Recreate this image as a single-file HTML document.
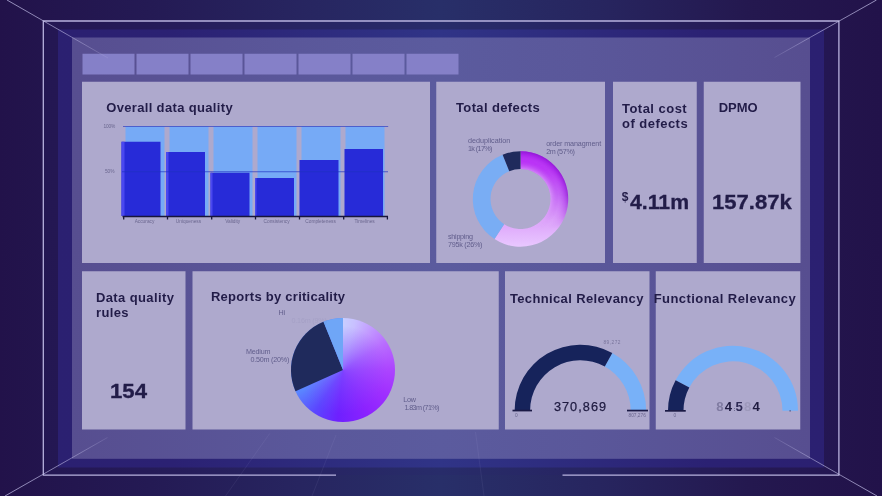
<!DOCTYPE html>
<html lang="en">
<head>
<meta charset="utf-8">
<title>Data quality dashboard</title>
<style>
  html, body { margin: 0; padding: 0; }
  body {
    width: 882px; height: 496px; overflow: hidden; position: relative;
    font-family: "Liberation Sans", sans-serif;
    background: #22124a;
  }
  #stage { position: absolute; left: 0; top: 0; width: 882px; height: 496px; overflow: hidden; }
  .t { filter: blur(0.35px); }
  svg.layer { position: absolute; left: 0; top: 0; filter: blur(0.4px); }
  .t { position: absolute; white-space: nowrap; color: #221c48; line-height: 1; }
  .title { font-weight: bold; font-size: 13px; }
  .big { font-weight: bold; font-size: 19.6px; transform-origin: 0 0; -webkit-text-stroke: 0.3px #221c48; }
  .lbl { font-size: 7.2px; color: #605d8b; line-height: 8px; }
  .tiny { font-size: 4.8px; color: #6b678f; }
  .num { font-size: 12.7px; color: #1f1b40; letter-spacing: 1.2px; }
</style>
</head>
<body>
<div id="stage">

<svg class="layer" width="882" height="496" viewBox="0 0 882 496">
  <defs>
    <radialGradient id="bgG" cx="441" cy="248" r="470" gradientUnits="userSpaceOnUse" gradientTransform="translate(0,0)">
      <stop offset="0" stop-color="#292d68"/>
      <stop offset="0.35" stop-color="#272661"/>
      <stop offset="0.7" stop-color="#241a53"/>
      <stop offset="1" stop-color="#22124a"/>
    </radialGradient>
    <linearGradient id="bgH" x1="0" y1="0" x2="882" y2="0" gradientUnits="userSpaceOnUse">
      <stop offset="0" stop-color="#22124a"/>
      <stop offset="0.17" stop-color="#241a54"/>
      <stop offset="0.34" stop-color="#272560"/>
      <stop offset="0.5" stop-color="#282f69"/>
      <stop offset="0.68" stop-color="#27255f"/>
      <stop offset="0.85" stop-color="#24184f"/>
      <stop offset="1" stop-color="#22124a"/>
    </linearGradient>
    <linearGradient id="wallH" x1="58" y1="0" x2="824" y2="0" gradientUnits="userSpaceOnUse">
      <stop offset="0" stop-color="#2b2071"/>
      <stop offset="0.15" stop-color="#2b2173"/>
      <stop offset="0.5" stop-color="#303487"/>
      <stop offset="0.85" stop-color="#2b2173"/>
      <stop offset="1" stop-color="#2b2071"/>
    </linearGradient>
    <linearGradient id="panelH" x1="72" y1="0" x2="810" y2="0" gradientUnits="userSpaceOnUse">
      <stop offset="0" stop-color="#574e90"/>
      <stop offset="0.3" stop-color="#5a579a"/>
      <stop offset="0.5" stop-color="#5b5b9e"/>
      <stop offset="0.7" stop-color="#5a579a"/>
      <stop offset="1" stop-color="#574e90"/>
    </linearGradient>
    <linearGradient id="donutP" x1="0" y1="151" x2="0" y2="247" gradientUnits="userSpaceOnUse">
      <stop offset="0" stop-color="#ba2af8"/>
      <stop offset="0.2" stop-color="#bb38f6"/>
      <stop offset="0.45" stop-color="#c466f5"/>
      <stop offset="0.72" stop-color="#dca2fa"/>
      <stop offset="1" stop-color="#e9c8ff"/>
    </linearGradient>
    <linearGradient id="pieG" x1="298" y1="400" x2="392" y2="345" gradientUnits="userSpaceOnUse">
      <stop offset="0" stop-color="#5a86ff"/>
      <stop offset="0.2" stop-color="#5a62ff"/>
      <stop offset="0.55" stop-color="#741cff"/>
      <stop offset="1" stop-color="#ac3cff"/>
    </linearGradient>
    <radialGradient id="pieHi" cx="346" cy="316" r="48" gradientUnits="userSpaceOnUse">
      <stop offset="0" stop-color="#d4d0ff" stop-opacity="1"/>
      <stop offset="0.35" stop-color="#cfc4ff" stop-opacity="0.85"/>
      <stop offset="1" stop-color="#c8a8ff" stop-opacity="0"/>
    </radialGradient>
    <linearGradient id="dTL" x1="7" y1="0" x2="108" y2="58" gradientUnits="userSpaceOnUse">
      <stop offset="0" stop-color="#c4c0ea" stop-opacity="0.85"/><stop offset="0.55" stop-color="#c4c0ea" stop-opacity="0.7"/><stop offset="1" stop-color="#c4c0ea" stop-opacity="0.15"/>
    </linearGradient>
    <linearGradient id="dTR" x1="876.5" y1="0" x2="774.5" y2="57.5" gradientUnits="userSpaceOnUse">
      <stop offset="0" stop-color="#c4c0ea" stop-opacity="0.85"/><stop offset="0.55" stop-color="#c4c0ea" stop-opacity="0.7"/><stop offset="1" stop-color="#c4c0ea" stop-opacity="0.15"/>
    </linearGradient>
    <linearGradient id="dBL" x1="5" y1="496" x2="107.5" y2="437.5" gradientUnits="userSpaceOnUse">
      <stop offset="0" stop-color="#c4c0ea" stop-opacity="0.85"/><stop offset="0.55" stop-color="#c4c0ea" stop-opacity="0.7"/><stop offset="1" stop-color="#c4c0ea" stop-opacity="0.15"/>
    </linearGradient>
    <linearGradient id="dBR" x1="877" y1="496" x2="774.5" y2="437.5" gradientUnits="userSpaceOnUse">
      <stop offset="0" stop-color="#c4c0ea" stop-opacity="0.85"/><stop offset="0.55" stop-color="#c4c0ea" stop-opacity="0.7"/><stop offset="1" stop-color="#c4c0ea" stop-opacity="0.15"/>
    </linearGradient>
    <radialGradient id="donutEdge" cx="520.5" cy="199" r="47.7" gradientUnits="userSpaceOnUse">
      <stop offset="0.63" stop-color="#f0d8ff" stop-opacity="0.45"/>
      <stop offset="0.8" stop-color="#c050f0" stop-opacity="0"/>
      <stop offset="0.93" stop-color="#9a18e0" stop-opacity="0.45"/>
      <stop offset="1" stop-color="#8412c8" stop-opacity="0.75"/>
    </radialGradient>
    <linearGradient id="fadeV" x1="0" y1="150" x2="0" y2="248" gradientUnits="userSpaceOnUse">
      <stop offset="0" stop-color="#fff"/>
      <stop offset="0.45" stop-color="#fff" stop-opacity="0.9"/>
      <stop offset="0.8" stop-color="#fff" stop-opacity="0"/>
    </linearGradient>
    <mask id="fadeM" maskUnits="userSpaceOnUse" x="470" y="148" width="102" height="102"><rect x="470" y="148" width="102" height="102" fill="url(#fadeV)"/></mask>
    <clipPath id="pieClip"><path d="M343 370 L343 318 A52 52 0 1 1 295.5 391.2 Z"/></clipPath>
  </defs>

  <!-- background -->
  <rect x="0" y="0" width="882" height="496" fill="url(#bgH)"/>

  <!-- nested box -->
  <rect x="43.5" y="21" width="795.4" height="454" fill="#2b2470" opacity="0.18"/>
  <rect x="58" y="29.5" width="766" height="438" fill="url(#wallH)"/>
  <rect x="72" y="37.5" width="738" height="421.3" fill="url(#panelH)"/>

  <!-- tabs -->
  <g fill="#8580c8">
    <rect x="82.5" y="53.75" width="52" height="20.75"/>
    <rect x="136.5" y="53.75" width="52" height="20.75"/>
    <rect x="190.5" y="53.75" width="52" height="20.75"/>
    <rect x="244.5" y="53.75" width="52" height="20.75"/>
    <rect x="298.5" y="53.75" width="52" height="20.75"/>
    <rect x="352.5" y="53.75" width="52" height="20.75"/>
    <rect x="406.5" y="53.75" width="52" height="20.75"/>
  </g>

  <!-- cards -->
  <g fill="#aea9cd">
    <rect x="82" y="81.75" width="348" height="181.25"/>
    <rect x="436.25" y="81.75" width="168.75" height="181.25"/>
    <rect x="613" y="81.75" width="83.75" height="181.25"/>
    <rect x="703.75" y="81.75" width="96.75" height="181.25"/>
    <rect x="82" y="271.25" width="103.5" height="158.25"/>
    <rect x="192.5" y="271.25" width="306.25" height="158.25"/>
    <rect x="505" y="271.25" width="144.5" height="158.25"/>
    <rect x="655.75" y="271.25" width="144.5" height="158.25"/>
  </g>

  <!-- bar chart -->
  <g fill="#76aaf6">
    <rect x="125.5" y="126.5" width="39" height="89.5"/>
    <rect x="169.5" y="126.5" width="39" height="89.5"/>
    <rect x="213.5" y="126.5" width="39" height="89.5"/>
    <rect x="257.5" y="126.5" width="39" height="89.5"/>
    <rect x="301.5" y="126.5" width="39" height="89.5"/>
    <rect x="345.5" y="126.5" width="39" height="89.5"/>
  </g>
  <g fill="#272bd8">
    <rect x="121.5" y="141.75" width="39" height="74.25"/>
    <rect x="166" y="152" width="39" height="64"/>
    <rect x="210.5" y="172.75" width="39" height="43.25"/>
    <rect x="255" y="178" width="39" height="38"/>
    <rect x="299.5" y="160" width="39" height="56"/>
    <rect x="344.5" y="149" width="38.5" height="67"/>
  </g>
  <g fill="#4a48f0">
    <rect x="121.5" y="141.75" width="3" height="74.25"/>
    <rect x="166" y="152" width="2.5" height="64"/>
    <rect x="210.5" y="172.75" width="2" height="43.25"/>
    <rect x="255" y="178" width="1.5" height="38"/>
  </g>
  <g stroke="#2030c0" stroke-width="0.8" opacity="0.85">
    <line x1="123" y1="126.4" x2="388.2" y2="126.4"/>
    <line x1="122" y1="171.75" x2="388" y2="171.75"/>
  </g>
  <g stroke="#17153a" stroke-width="1.3">
    <line x1="122.5" y1="216.5" x2="388" y2="216.5"/>
    <line x1="123.7" y1="216" x2="123.7" y2="219.5"/>
    <line x1="167.5" y1="216" x2="167.5" y2="219.5"/>
    <line x1="211.7" y1="216" x2="211.7" y2="219.5"/>
    <line x1="255.5" y1="216" x2="255.5" y2="219.5"/>
    <line x1="299.5" y1="216" x2="299.5" y2="219.5"/>
    <line x1="343.7" y1="216" x2="343.7" y2="219.5"/>
    <line x1="387.4" y1="216" x2="387.4" y2="219.5"/>
  </g>

  <!-- donut: center (520.5,199) R 47.7 r 30 -->
  <g>
    <!-- purple 0deg -> 213deg -->
    <path fill="url(#donutP)" d="M520.5 151.3 A47.7 47.7 0 1 1 494.52 239 L504.16 224.16 A30 30 0 1 0 520.5 169 Z"/>
    <path fill="url(#donutEdge)" mask="url(#fadeM)" d="M520.5 151.3 A47.7 47.7 0 1 1 494.52 239 L504.16 224.16 A30 30 0 1 0 520.5 169 Z"/>
    <!-- light blue 213 -> 338 -->
    <path fill="#79adf4" d="M494.52 239 A47.7 47.7 0 0 1 502.63 154.77 L509.26 171.18 A30 30 0 0 0 504.16 224.16 Z"/>
    <!-- navy 338 -> 360 -->
    <path fill="#1f2a5c" d="M502.63 154.77 A47.7 47.7 0 0 1 520.5 151.3 L520.5 169 A30 30 0 0 0 509.26 171.18 Z"/>
  </g>

  <!-- pie: center (343,370) R 52 -->
  <g>
    <circle cx="343" cy="370" r="52" fill="#1f2a5c" opacity="0"/>
    <foreignObject x="291" y="318" width="104" height="104">
      <div style="width:104px;height:104px;border-radius:50%;background:
        radial-gradient(circle at 50% 50%, rgba(128,76,255,0.8) 0%, rgba(128,76,255,0.4) 28%, rgba(128,76,255,0) 60%),
        conic-gradient(from 0deg at 50% 50%, #c8ceff 0deg, #c8c0ff 14deg, #c29aff 34deg, #b86cff 58deg, #ad46ff 88deg, #a030ff 118deg, #8c22ff 150deg, #6e20ff 186deg, #5b46ff 214deg, #5a86ff 244deg, #5a8cff 360deg);"></div>
    </foreignObject>
    <!-- navy 246 -> 338 -->
    <path fill="#1f2a5c" d="M343 370 L295.5 391.2 A52 52 0 0 1 323.5 321.8 Z"/>
    <!-- light blue 338 -> 360 -->
    <path fill="#6fa6f7" d="M343 370 L323.5 321.8 A52 52 0 0 1 343 318 Z"/>
  </g>

  <!-- gauge 1: center (580.4,410.5) R 65.75 r 50.3 -->
  <g>
    <path fill="#78b1f8" d="M612.28 353 A65.75 65.75 0 0 1 646.15 410.5 L630.7 410.5 A50.3 50.3 0 0 0 604.79 366.5 Z"/>
    <path fill="#16235b" d="M514.65 410.5 A65.75 65.75 0 0 1 612.28 353 L604.79 366.5 A50.3 50.3 0 0 0 530.1 410.5 Z"/>
    <rect x="512.5" y="409.7" width="19.5" height="1.7" fill="#1b1a45"/>
    <rect x="627" y="409.7" width="21" height="1.7" fill="#1b1a45"/>
  </g>

  <!-- gauge 2: center (733,410.75) R 65 r 49.5 -->
  <g>
    <path fill="#78b1f8" d="M675.61 380.23 A65 65 0 0 1 798 410.75 L782.5 410.75 A49.5 49.5 0 0 0 689.29 387.51 Z"/>
    <path fill="#16235b" d="M668 410.75 A65 65 0 0 1 675.61 380.23 L689.29 387.51 A49.5 49.5 0 0 0 683.5 410.75 Z"/>
    <rect x="665" y="410" width="20.75" height="1.7" fill="#1b1a45"/>
    <rect x="789.6" y="410.4" width="1" height="1" fill="#1b1a45"/>
  </g>

  <!-- frame lines -->
  <g stroke="#c0bae6" stroke-width="1.3" fill="none" opacity="0.95">
    <path d="M336 475.1 L43.3 475.1 L43.3 21 L838.9 21 L838.9 475.1 L562.5 475.1"/>
  </g>
  <g stroke-width="0.85" fill="none">
    <line x1="7" y1="0" x2="108" y2="58" stroke="url(#dTL)"/>
    <line x1="876.5" y1="0" x2="774.5" y2="57.5" stroke="url(#dTR)"/>
    <line x1="5" y1="496" x2="107.5" y2="437.5" stroke="url(#dBL)"/>
    <line x1="877" y1="496" x2="774.5" y2="437.5" stroke="url(#dBR)"/>
  </g>
  <g stroke="#c8c4f0" stroke-width="0.8" opacity="0.09">
    <line x1="269.7" y1="433.5" x2="225.5" y2="496"/>
    <line x1="336" y1="435" x2="312" y2="496"/>
    <line x1="475.5" y1="432" x2="484" y2="496"/>
  </g>
</svg>

<!-- text -->
<div class="t title" id="t1" style="left:106.20px; top:101.3px; letter-spacing:0.342px;">Overall data quality</div>
<div class="t title" id="t2" style="left:456.00px; top:101.2px; letter-spacing:0.375px;">Total defects</div>
<div class="t title" id="t3" style="left:622.00px; top:100.7px; line-height:15.5px; letter-spacing:0.472px;">Total cost<br>of defects</div>
<div class="t title" id="t4" style="left:718.75px; top:101.2px; letter-spacing:-0.083px;">DPMO</div>
<div class="t title" id="t5" style="left:95.95px; top:289.6px; line-height:15.5px; letter-spacing:0.386px;">Data quality<br>rules</div>
<div class="t title" id="t6" style="left:210.95px; top:290px; letter-spacing:0.262px;">Reports by criticality</div>
<div class="t title" id="t7" style="left:509.95px; top:292.1px; letter-spacing:0.361px;">Technical Relevancy</div>
<div class="t title" id="t8" style="left:653.75px; top:292.1px; letter-spacing:0.434px;">Functional Relevancy</div>

<div class="t big" id="b1" style="left:629.7px; top:193.2px; transform:scaleX(1.083);">4.11m</div>
<div class="t" id="b1s" style="left:621.8px; top:190.6px; font-weight:bold; font-size:12px;">$</div>
<div class="t big" id="b2" style="left:711.7px; top:193.2px; transform:scaleX(1.127);">157.87k</div>
<div class="t big" id="b3" style="left:110.4px; top:381.7px; font-size:19.3px; transform:scaleX(1.15);">154</div>

<div class="t num" id="n1" style="left:553.9px; top:400.5px; letter-spacing:1.05px; -webkit-text-stroke:0.25px #1f1b40;">370,869</div>
<div class="t num" id="n2" style="left:716.3px; top:400.2px; font-size:13.2px; font-weight:bold;"><span style="color:#807ca2">8</span>4<span style="font-size:5px;letter-spacing:0.4px;position:relative;top:-0.5px;color:#3a3660">:</span><span style="color:#2e2a55">5</span><span style="color:#9d99bb">8</span>4</div>

<div class="t lbl" id="l1" style="left:467.95px; top:136.8px; letter-spacing:0.00px;">deduplication<br><span style="letter-spacing:-0.6px">1k (17%)</span></div>
<div class="t lbl" id="l2" style="left:546.15px; top:140.2px; letter-spacing:-0.12px;">order managment<br><span style="letter-spacing:-0.35px">2m (57%)</span></div>
<div class="t lbl" id="l3" style="left:447.95px; top:232.5px; letter-spacing:-0.25px;">shipping<br>795k (26%)</div>
<div class="t lbl" id="l4" style="left:278.40px; top:308.5px; letter-spacing:-0.20px;">Hi</div>
<div class="t lbl" id="l4b" style="left:291.50px; top:316.5px; letter-spacing:-0.20px; opacity:0.12;">0.16m (9%)</div>
<div class="t lbl" id="l5" style="left:245.95px; top:348.3px; letter-spacing:-0.22px;">Medium<br><span style="margin-left:4.5px">0.50m (20%)</span></div>
<div class="t lbl" id="l6" style="left:403.20px; top:395.5px; letter-spacing:-0.20px;">Low<br><span style="margin-left:1.3px;letter-spacing:-0.62px">1.83m (71%)</span></div>

<div class="t tiny" id="y1" style="left:103.5px; top:125.3px; letter-spacing:-0.2px;">100%</div>
<div class="t tiny" id="y2" style="left:105px; top:170.3px; letter-spacing:-0.1px;">50%</div>
<div class="t tiny xl" style="left:122.5px; top:220px; width:44px; text-align:center;">Accuracy</div>
<div class="t tiny xl" style="left:166.5px; top:220px; width:44px; text-align:center;">Uniqueness</div>
<div class="t tiny xl" style="left:210.7px; top:220px; width:44px; text-align:center;">Validity</div>
<div class="t tiny xl" style="left:254.6px; top:220px; width:44px; text-align:center;">Consistency</div>
<div class="t tiny xl" style="left:298.6px; top:220px; width:44px; text-align:center;">Completeness</div>
<div class="t tiny xl" style="left:342.6px; top:220px; width:44px; text-align:center;">Timelines</div>

<div class="t tiny" style="left:603.5px; top:341.4px; opacity:0.8; letter-spacing:0.45px;">89,272</div>
<div class="t tiny" style="left:515px; top:414.3px;">0</div>
<div class="t tiny" style="left:628.5px; top:414.3px;">807,276</div>
<div class="t tiny" style="left:673.5px; top:414.3px;">0</div>

</div>
</body>
</html>
